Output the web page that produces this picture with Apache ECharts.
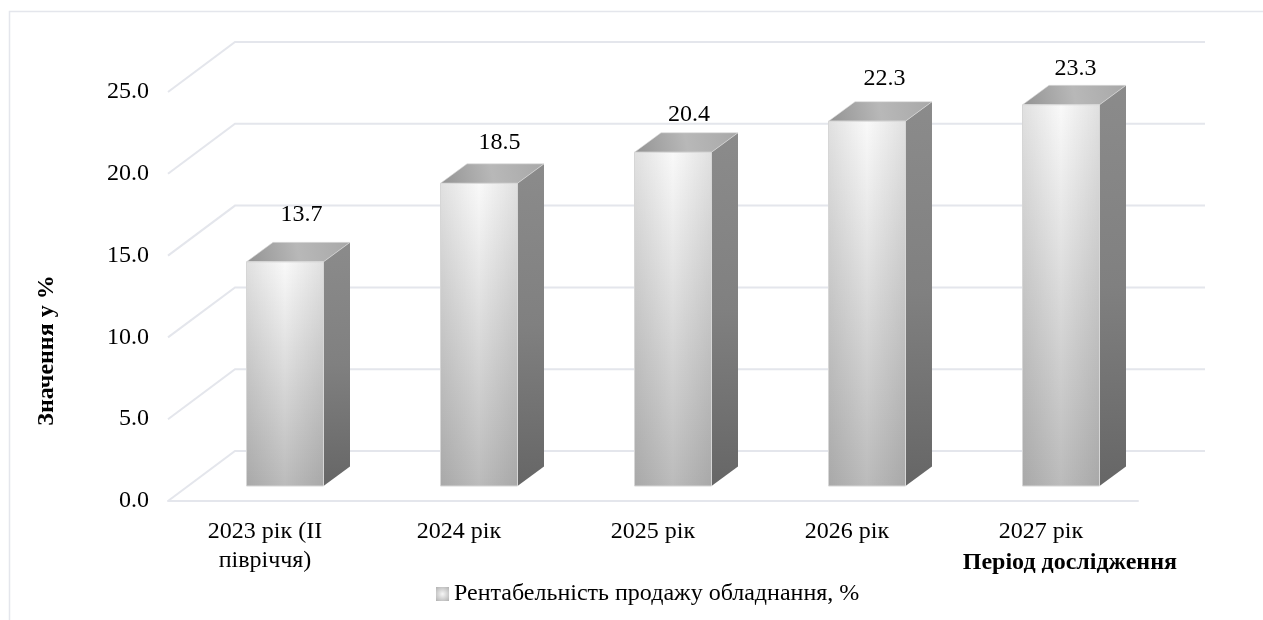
<!DOCTYPE html>
<html>
<head>
<meta charset="utf-8">
<style>html,body{margin:0;padding:0;background:#fff}#chart{width:1263px;height:620px}</style>
<script src="https://cdn.jsdelivr.net/npm/echarts@6/dist/echarts.min.js"></script>
</head>
<body>
<div id="chart"></div>
<script>
// Forecast of equipment sales profitability, drawn as 3D-style columns.
const categories = ['2023 рік (II\nпівріччя)', '2024 рік', '2025 рік', '2026 рік', '2027 рік'];
const profitability = [13.7, 18.5, 20.4, 22.3, 23.3];
const valueTicks = [0, 5, 10, 15, 20, 25];
const seriesName = 'Рентабельність продажу обладнання, %';

// Depth of the box the chart sits in, and of each column inside it (px).
const wallDepth = { x: 67, y: -50 };
const barInset = { x: 20, y: -15 };
const barDepth = { x: 26.5, y: -19.5 };
const barWidth = 77;
const gridColor = '#e4e6ec';
const fontFamily = '"Liberation Serif", "Times New Roman", serif';
const fontSize = 24;
// Hand-placed value labels, relative to the back edge of each column's top.
const labelShift = [[16.5, -28], [20.5, -21], [16, -18], [17.5, -22.5], [14.5, -17]];

function linear(x0, y0, x1, y1, stops) {
  return { type: 'linear', x: x0, y: y0, x2: x1, y2: y1,
    colorStops: stops.map((c, i) => ({ offset: i / (stops.length - 1), color: c })) };
}

function renderWalls(params, api) {
  const left = params.coordSys.x;
  const right = left + params.coordSys.width;
  const y = api.coord([0, api.value(0)])[1];
  return {
    type: 'polyline',
    shape: { points: [[left, y], [left + wallDepth.x, y + wallDepth.y], [right + wallDepth.x, y + wallDepth.y]] },
    style: { stroke: gridColor, lineWidth: 2, fill: null }
  };
}

function renderBar(params, api) {
  const idx = api.value(0);
  const value = api.value(1);
  const centre = api.coord([idx, 0])[0] + barInset.x;
  const x0 = centre - barWidth / 2;
  const x1 = centre + barWidth / 2;
  const yBase = api.coord([idx, 0])[1] + barInset.y;
  const yTop = api.coord([idx, value])[1] + barInset.y;
  const dx = barDepth.x, dy = barDepth.y;
  const h = yBase - yTop;
  const shift = labelShift[params.dataIndex];
  return {
    type: 'group',
    children: [
      { // right side
        type: 'polygon',
        shape: { points: [[x1, yTop], [x1 + dx, yTop + dy], [x1 + dx, yBase + dy], [x1, yBase]] },
        style: { fill: linear(0, 0, 0, 1, ['#8b8b8b', '#808080', '#666666']) }
      },
      { // top
        type: 'polygon',
        shape: { points: [[x0, yTop], [x0 + dx, yTop + dy], [x1 + dx, yTop + dy], [x1, yTop]] },
        style: { fill: linear(0, 1, 1, 0, ['#939393', '#b8b8b8', '#a8a8a8']), stroke: '#dcdcdc', lineWidth: 0.6 }
      },
      { // front
        type: 'rect',
        shape: { x: x0, y: yTop, width: barWidth, height: h },
        style: { fill: linear(0, 0, 0, 1, ['#f9f9f9', '#dadada', '#bbbbbb']) }
      },
      { // front-face side shading
        type: 'rect',
        shape: { x: x0, y: yTop, width: barWidth, height: h },
        style: { fill: linear(0, 0, 1, 0, ['rgba(0,0,0,0.1)', 'rgba(0,0,0,0)', 'rgba(0,0,0,0.1)']), stroke: '#d6d6d6', lineWidth: 1 }
      },
      {
        type: 'text',
        style: {
          x: centre + shift[0], y: yTop + dy + shift[1],
          text: value.toFixed(1), align: 'center', verticalAlign: 'middle',
          font: fontSize + 'px ' + fontFamily, fill: '#000'
        }
      }
    ]
  };
}

const chart = echarts.init(document.getElementById('chart'), null, { renderer: 'canvas' });
chart.setOption({
  animation: false,
  backgroundColor: '#fff',
  textStyle: { fontFamily: fontFamily },
  grid: { left: 168, right: 125, top: 92, bottom: 119 },
  graphic: [{
    type: 'polyline', silent: true,
    shape: { points: [[9.5, 620], [9.5, 11.5], [1263, 11.5]] },
    style: { stroke: gridColor, lineWidth: 1.5, fill: null }
  }],
  legend: {
    left: 431, top: 577, itemWidth: 13, itemHeight: 14, itemGap: 1,
    icon: 'rect',
    data: [{
      name: seriesName,
      itemStyle: {
        color: { type: 'radial', x: 0.5, y: 0.5, r: 0.7, colorStops: [{ offset: 0, color: '#f6f6f6' }, { offset: 1, color: '#b4b4b4' }] }
      }
    }],
    textStyle: { fontFamily: fontFamily, fontSize: fontSize, color: '#000', padding: 0 }
  },
  xAxis: {
    type: 'category', data: categories,
    axisTick: { show: false },
    axisLine: { show: true, lineStyle: { color: gridColor, width: 2 } },
    axisLabel: { color: '#000', fontFamily: fontFamily, fontSize: fontSize, lineHeight: 29, margin: 16, interval: 0 },
    name: 'Період дослідження', nameLocation: 'end', nameGap: 39,
    nameTextStyle: { color: '#000', fontFamily: fontFamily, fontSize: fontSize, fontWeight: 'bold',
      align: 'right', verticalAlign: 'top', padding: [50, 0, 0, 0] }
  },
  yAxis: {
    type: 'value', min: 0, max: 25, interval: 5,
    axisLine: { show: false }, axisTick: { show: false }, splitLine: { show: false },
    axisLabel: { color: '#000', fontFamily: fontFamily, fontSize: fontSize, margin: 19, padding: [2, 0, 0, 0], formatter: v => v.toFixed(1) },
    name: 'Значення у %', nameLocation: 'middle', nameGap: 109,
    nameTextStyle: { color: '#000', fontFamily: fontFamily, fontSize: fontSize, fontWeight: 'bold', padding: [0, 108, 0, 0] }
  },
  series: [
    {
      name: 'walls', type: 'custom', renderItem: renderWalls, silent: true, z: 1,
      encode: { y: 0 }, data: valueTicks.map(v => [v]), legendHoverLink: false
    },
    {
      name: seriesName, type: 'custom', renderItem: renderBar, z: 3,
      encode: { x: 0, y: 1 }, itemStyle: { color: '#dedede' },
      data: profitability.map((v, i) => [i, v])
    }
  ]
});
</script>
</body>
</html>
